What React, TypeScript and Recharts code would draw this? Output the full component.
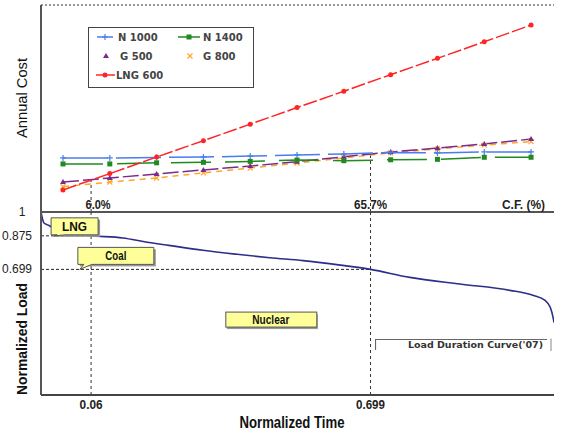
import React from 'react';
import {
  ComposedChart,
  Line,
  XAxis,
  YAxis,
  CartesianGrid,
  ReferenceLine,
  ReferenceArea,
  ReferenceDot,
  Legend,
  Label,
} from 'recharts';

// capacity factor (%) of the cost points
const CF = [0, 10, 20, 30, 40, 50, 60, 70, 80, 90, 100];
// annual cost, arbitrary units (axis has no numbers)
const N1000 = [2.35, 2.35, 2.37, 2.39, 2.43, 2.48, 2.52, 2.59, 2.57, 2.61, 2.61];
const N1400 = [2.09, 2.09, 2.14, 2.16, 2.2, 2.26, 2.23, 2.27, 2.29, 2.38, 2.38];
const G500 = [1.3, 1.48, 1.65, 1.83, 2.0, 2.19, 2.4, 2.61, 2.78, 2.96, 3.17];
const G800 = [1.1, 1.3, 1.48, 1.7, 1.91, 2.13, 2.35, 2.57, 2.74, 2.91, 3.06];
const LNG600 = [0.96, 1.67, 2.39, 3.1, 3.82, 4.54, 5.25, 5.97, 6.68, 7.4, 8.13];

const COST_GRID = [2, 3, 5, 6, 8];
const CF_SPLITS = [6.0, 65.7];
const CF_LABELS = ['6.0%', '65.7%'];
const SPLIT_COST = [1.39, 2.57];
const TIME_LABELS = ['0.06', '0.699'];

// load duration curve ('07)
const LDC_T = [-4.7, -4.06, -2.99, -1.5, 0, 2.56, 6.0, 12.8, 17.7, 22.6, 29.9, 37.2, 44.2, 51.3, 58.5, 65.7, 74.1, 84.8, 95.5, 100.4, 103.0, 104.1, 104.7, 104.9];
const LDC_LOAD = [1.0, 0.942, 0.929, 0.906, 0.893, 0.884, 0.875, 0.864, 0.843, 0.825, 0.799, 0.778, 0.76, 0.745, 0.724, 0.699, 0.657, 0.622, 0.589, 0.563, 0.536, 0.5, 0.447, 0.42];
const LOAD_TICKS = [0.699, 0.875, 1];
const LOAD_SPLITS = [0.875, 0.699];

const CALLOUT_LABELS = ['LNG', 'Coal', 'Nuclear'];
const CALLOUT_T = [-1.9, 3.6, 44.4];
const CALLOUT_LOAD = [0.875, 0.699, 0.433];

const X_DOMAIN: [number, number] = [-4.7, 104.9];
const FONT = "'Liberation Sans', Arial, sans-serif";

const C = {
  n1000: '#4a7cf0',
  n1400: '#1f8a1f',
  g500: '#7a2a8c',
  g800: '#ffa52a',
  lng600: '#ff2424',
  ldc: '#2d2d8a',
  frame: '#555',
};

// narrow text: the original uses a condensed face, squeeze to its width
const NARROW = { lengthAdjust: 'spacingAndGlyphs' as const, fontFamily: FONT };

const costData = CF.map((c, i) => ({
  cf: c,
  n1000: N1000[i],
  n1400: N1400[i],
  g500: G500[i],
  g800: G800[i],
  lng600: LNG600[i],
}));

const loadData = LDC_T.map((t, i) => ({ t, load: LDC_LOAD[i] }));

// markers
const PlusDot = (p: any) =>
  p.cx == null ? null : (
    <path key={p.index} d={`M${p.cx - 3},${p.cy}H${p.cx + 3}M${p.cx},${p.cy - 3}V${p.cy + 3}`} stroke={C.n1000} strokeWidth={1.2} />
  );
const SquareDot = (p: any) =>
  p.cx == null ? null : <rect key={p.index} x={p.cx - 2.5} y={p.cy - 2.5} width={5} height={5} fill={C.n1400} />;
const TriDot = (p: any) =>
  p.cx == null ? null : (
    <path key={p.index} d={`M${p.cx},${p.cy - 3}L${p.cx + 3},${p.cy + 2}L${p.cx - 3},${p.cy + 2}Z`} fill={C.g500} />
  );
const CrossDot = (p: any) =>
  p.cx == null ? null : (
    <path key={p.index} d={`M${p.cx - 2.5},${p.cy - 2.5}L${p.cx + 2.5},${p.cy + 2.5}M${p.cx + 2.5},${p.cy - 2.5}L${p.cx - 2.5},${p.cy + 2.5}`} stroke={C.g800} strokeWidth={1.2} />
  );
const RoundDot = (p: any) =>
  p.cx == null ? null : <circle key={p.index} cx={p.cx} cy={p.cy} r={2.5} fill={C.lng600} />;

const CF_WIDTHS = [25, 33];
const CfTick = (p: any) => {
  const i = CF_SPLITS.indexOf(p.payload.value);
  return (
    <text x={p.x + (i === 0 ? 7 : 0)} y={p.y - 3} textAnchor="middle" fontSize={12} fontWeight="bold" fill="#222" textLength={CF_WIDTHS[i]} {...NARROW}>
      {CF_LABELS[i]}
    </text>
  );
};

const TIME_WIDTHS = [23, 29];
const TimeTick = (p: any) => {
  const i = CF_SPLITS.indexOf(p.payload.value);
  return (
    <text x={p.x} y={p.y + 10} textAnchor="middle" fontSize={12} fontWeight="bold" fill="#222" textLength={TIME_WIDTHS[i]} {...NARROW}>
      {TIME_LABELS[i]}
    </text>
  );
};

const LoadTick = (p: any) => {
  const v = p.payload.value;
  const label = String(v);
  return (
    <text x={v === 1 ? 22 : 17} y={p.y + 4} textAnchor="middle" fontSize={12} fill="#222" textLength={label.length > 1 ? 30 : undefined} {...NARROW}>
      {label}
    </text>
  );
};

const legendText = { fontSize: 10, fontWeight: 'bold', fill: '#444', fontFamily: 'DejaVu Sans' } as const;

const CostLegend = () => (
  <svg width={166} height={61}>
    <rect x={0.5} y={0.5} width={165} height={60} fill="#fff" stroke="#444" />
    <line x1={9} x2={25} y1={10} y2={10} stroke={C.n1000} strokeWidth={1.5} />
    <PlusDot cx={17} cy={10} />
    <text x={30} y={14} {...legendText}>N 1000</text>
    <line x1={90} x2={112} y1={10} y2={10} stroke={C.n1400} strokeWidth={1.5} />
    <SquareDot cx={101} cy={10} />
    <text x={115} y={14} {...legendText}>N 1400</text>
    <TriDot cx={18} cy={29} />
    <text x={32} y={33} {...legendText}>G 500</text>
    <CrossDot cx={102} cy={29} />
    <text x={115} y={33} {...legendText}>G 800</text>
    <line x1={8} x2={27} y1={48} y2={48} stroke={C.lng600} strokeWidth={1.5} />
    <RoundDot cx={17} cy={48} />
    <text x={28} y={52} {...legendText}>LNG 600</text>
  </svg>
);

const LdcLegend = () => (
  <svg width={180} height={16}>
    <path d="M0.5,12V1.5H172" fill="none" stroke="#666" strokeWidth={1.2} />
    <path d="M176,0.5V13" fill="none" stroke="#888" strokeWidth={1} />
    <text x={168} y={10} textAnchor="end" fontSize={9.5} fontWeight="bold" fill="#333" fontFamily="DejaVu Sans">
      Load Duration Curve('07)
    </text>
  </svg>
);

const CALLOUT_TEXT_W: Record<string, number> = { LNG: 25, Coal: 21, Nuclear: 37 };

const Callout = (p: any) => {
  const { cx, cy, label } = p;
  if (cx == null) return null;
  const txt = (x: number, y: number) => (
    <text x={x} y={y} textAnchor="middle" fontSize={12} fontWeight="bold" fill="#111" textLength={CALLOUT_TEXT_W[label]} {...NARROW}>
      {label}
    </text>
  );
  if (label === 'Nuclear') {
    return (
      <g>
        <rect x={cx - 44} y={cy - 6} width={91} height={15} fill="#999" />
        <rect x={cx - 45} y={cy - 8} width={91} height={15} fill="#ffff99" stroke="#555" />
        {txt(cx, cy + 4)}
      </g>
    );
  }
  const w = label === 'LNG' ? 47 : 76;
  const left = label === 'LNG' ? cx - 3 : cx - 2;
  const top = label === 'LNG' ? cy - 18 : cy - 22;
  return (
    <g>
      <rect x={left + 2} y={top + 2} width={w} height={17} fill="#999" />
      <path d={`M${left},${top}H${left + w}V${top + 17}H${left + 14}L${cx},${cy}L${left + 6},${top + 17}H${left}Z`} fill="#ffff99" stroke="#555" />
      {txt(left + w / 2, top + 13)}
    </g>
  );
};

const CostChart = () => (
  <ComposedChart width={561} height={217} data={costData} margin={{ top: 5, right: 7, bottom: 0, left: 0 }}>
    <CartesianGrid vertical={false} stroke="#333" strokeDasharray="2 2" />
    <XAxis
      dataKey="cf"
      type="number"
      domain={X_DOMAIN}
      allowDataOverflow
      ticks={CF_SPLITS}
      interval={0}
      height={5}
      tickSize={0}
      tickMargin={0}
      tickLine={false}
      axisLine={{ stroke: C.frame, strokeWidth: 2 }}
      tick={<CfTick />}
    >
      <Label
        content={(props: any) => (
          <text x={props.viewBox.x + props.viewBox.width - 9} y={props.viewBox.y - 3} textAnchor="end" fontSize={12} fontWeight="bold" fill="#222" textLength={43} {...NARROW}>
            C.F. (%)
          </text>
        )}
      />
    </XAxis>
    <YAxis type="number" domain={[0, 9]} ticks={COST_GRID} width={41} tick={false} tickLine={false} axisLine={{ stroke: C.frame, strokeWidth: 2 }}>
      <Label
        content={() => (
          <text x={27} y={98} transform="rotate(-90, 27, 98)" textAnchor="middle" fontSize={15} fill="#111" textLength={80} {...NARROW}>
            Annual Cost
          </text>
        )}
      />
    </YAxis>
    <ReferenceArea fill="none" stroke={C.frame} strokeWidth={1.5} />
    {CF_SPLITS.map((c, i) => (
      <ReferenceLine key={c} segment={[{ x: c, y: 0 }, { x: c, y: SPLIT_COST[i] }]} stroke="#333" strokeDasharray="3 3" />
    ))}
    <Line dataKey="g800" stroke={C.g800} strokeWidth={1.5} strokeDasharray="6 5" dot={CrossDot} isAnimationActive={false} />
    <Line dataKey="g500" stroke={C.g500} strokeWidth={1.5} strokeDasharray="16 4" dot={TriDot} isAnimationActive={false} />
    <Line dataKey="n1400" stroke={C.n1400} strokeWidth={1.5} strokeDasharray="40 14" dot={SquareDot} isAnimationActive={false} />
    <Line dataKey="n1000" stroke={C.n1000} strokeWidth={1.5} strokeDasharray="45 8" dot={PlusDot} isAnimationActive={false} />
    <Line dataKey="lng600" stroke={C.lng600} strokeWidth={1.5} strokeDasharray="14 3" dot={RoundDot} isAnimationActive={false} />
    <Legend
      layout="horizontal"
      verticalAlign="middle"
      align="center"
      content={() => <CostLegend />}
      wrapperStyle={{ left: 88, top: 27, width: 166, height: 61 }}
    />
  </ComposedChart>
);

const LoadChart = () => (
  <ComposedChart width={561} height={234} data={loadData} margin={{ top: 12, right: 7, bottom: 0, left: 0 }}>
    <XAxis
      dataKey="t"
      type="number"
      domain={X_DOMAIN}
      allowDataOverflow
      ticks={CF_SPLITS}
      interval={0}
      height={39}
      tickSize={0}
      tickMargin={4}
      tickLine={false}
      axisLine={{ stroke: '#444', strokeWidth: 2 }}
      tick={<TimeTick />}
    >
      <Label
        content={() => (
          <text x={292} y={228} textAnchor="middle" fontSize={16} fontWeight="bold" fill="#111" textLength={105} {...NARROW}>
            Normalized Time
          </text>
        )}
      />
    </XAxis>
    <YAxis
      type="number"
      domain={[0.04, 1]}
      allowDataOverflow
      ticks={LOAD_TICKS}
      interval={0}
      width={41}
      tickSize={0}
      tickMargin={8}
      tickLine={false}
      axisLine={{ stroke: C.frame, strokeWidth: 2 }}
      tick={<LoadTick />}
    >
      <Label
        content={() => (
          <text x={27} y={139} transform="rotate(-90, 27, 139)" textAnchor="middle" fontSize={15} fontWeight="bold" fill="#111" textLength={112} {...NARROW}>
            Normalized Load
          </text>
        )}
      />
    </YAxis>
    <ReferenceArea fill="none" stroke="#444" strokeWidth={2} />
    {CF_SPLITS.map((c) => (
      <ReferenceLine key={c} x={c} stroke="#333" strokeDasharray="3 3" />
    ))}
    {LOAD_SPLITS.map((v, i) => (
      <ReferenceLine key={v} segment={[{ x: X_DOMAIN[0], y: v }, { x: CF_SPLITS[i], y: v }]} stroke="#222" strokeDasharray="3 2" />
    ))}
    <Line dataKey="load" type="monotone" stroke={C.ldc} strokeWidth={1.6} dot={false} isAnimationActive={false} />
    {CALLOUT_LABELS.map((l, i) => (
      <ReferenceDot key={l} x={CALLOUT_T[i]} y={CALLOUT_LOAD[i]} shape={(p: any) => <Callout {...p} label={l} />} />
    ))}
    <Legend
      layout="horizontal"
      verticalAlign="middle"
      align="center"
      content={() => <LdcLegend />}
      wrapperStyle={{ left: 375, top: 138, width: 180, height: 16 }}
    />
  </ComposedChart>
);

export default function App() {
  return (
    <div style={{ position: 'absolute', left: 0, top: 0, width: 561, height: 434, background: '#fff' }}>
      <div style={{ position: 'absolute', left: 0, top: 0 }}>
        <CostChart />
      </div>
      <div style={{ position: 'absolute', left: 0, top: 200 }}>
        <LoadChart />
      </div>
    </div>
  );
}
